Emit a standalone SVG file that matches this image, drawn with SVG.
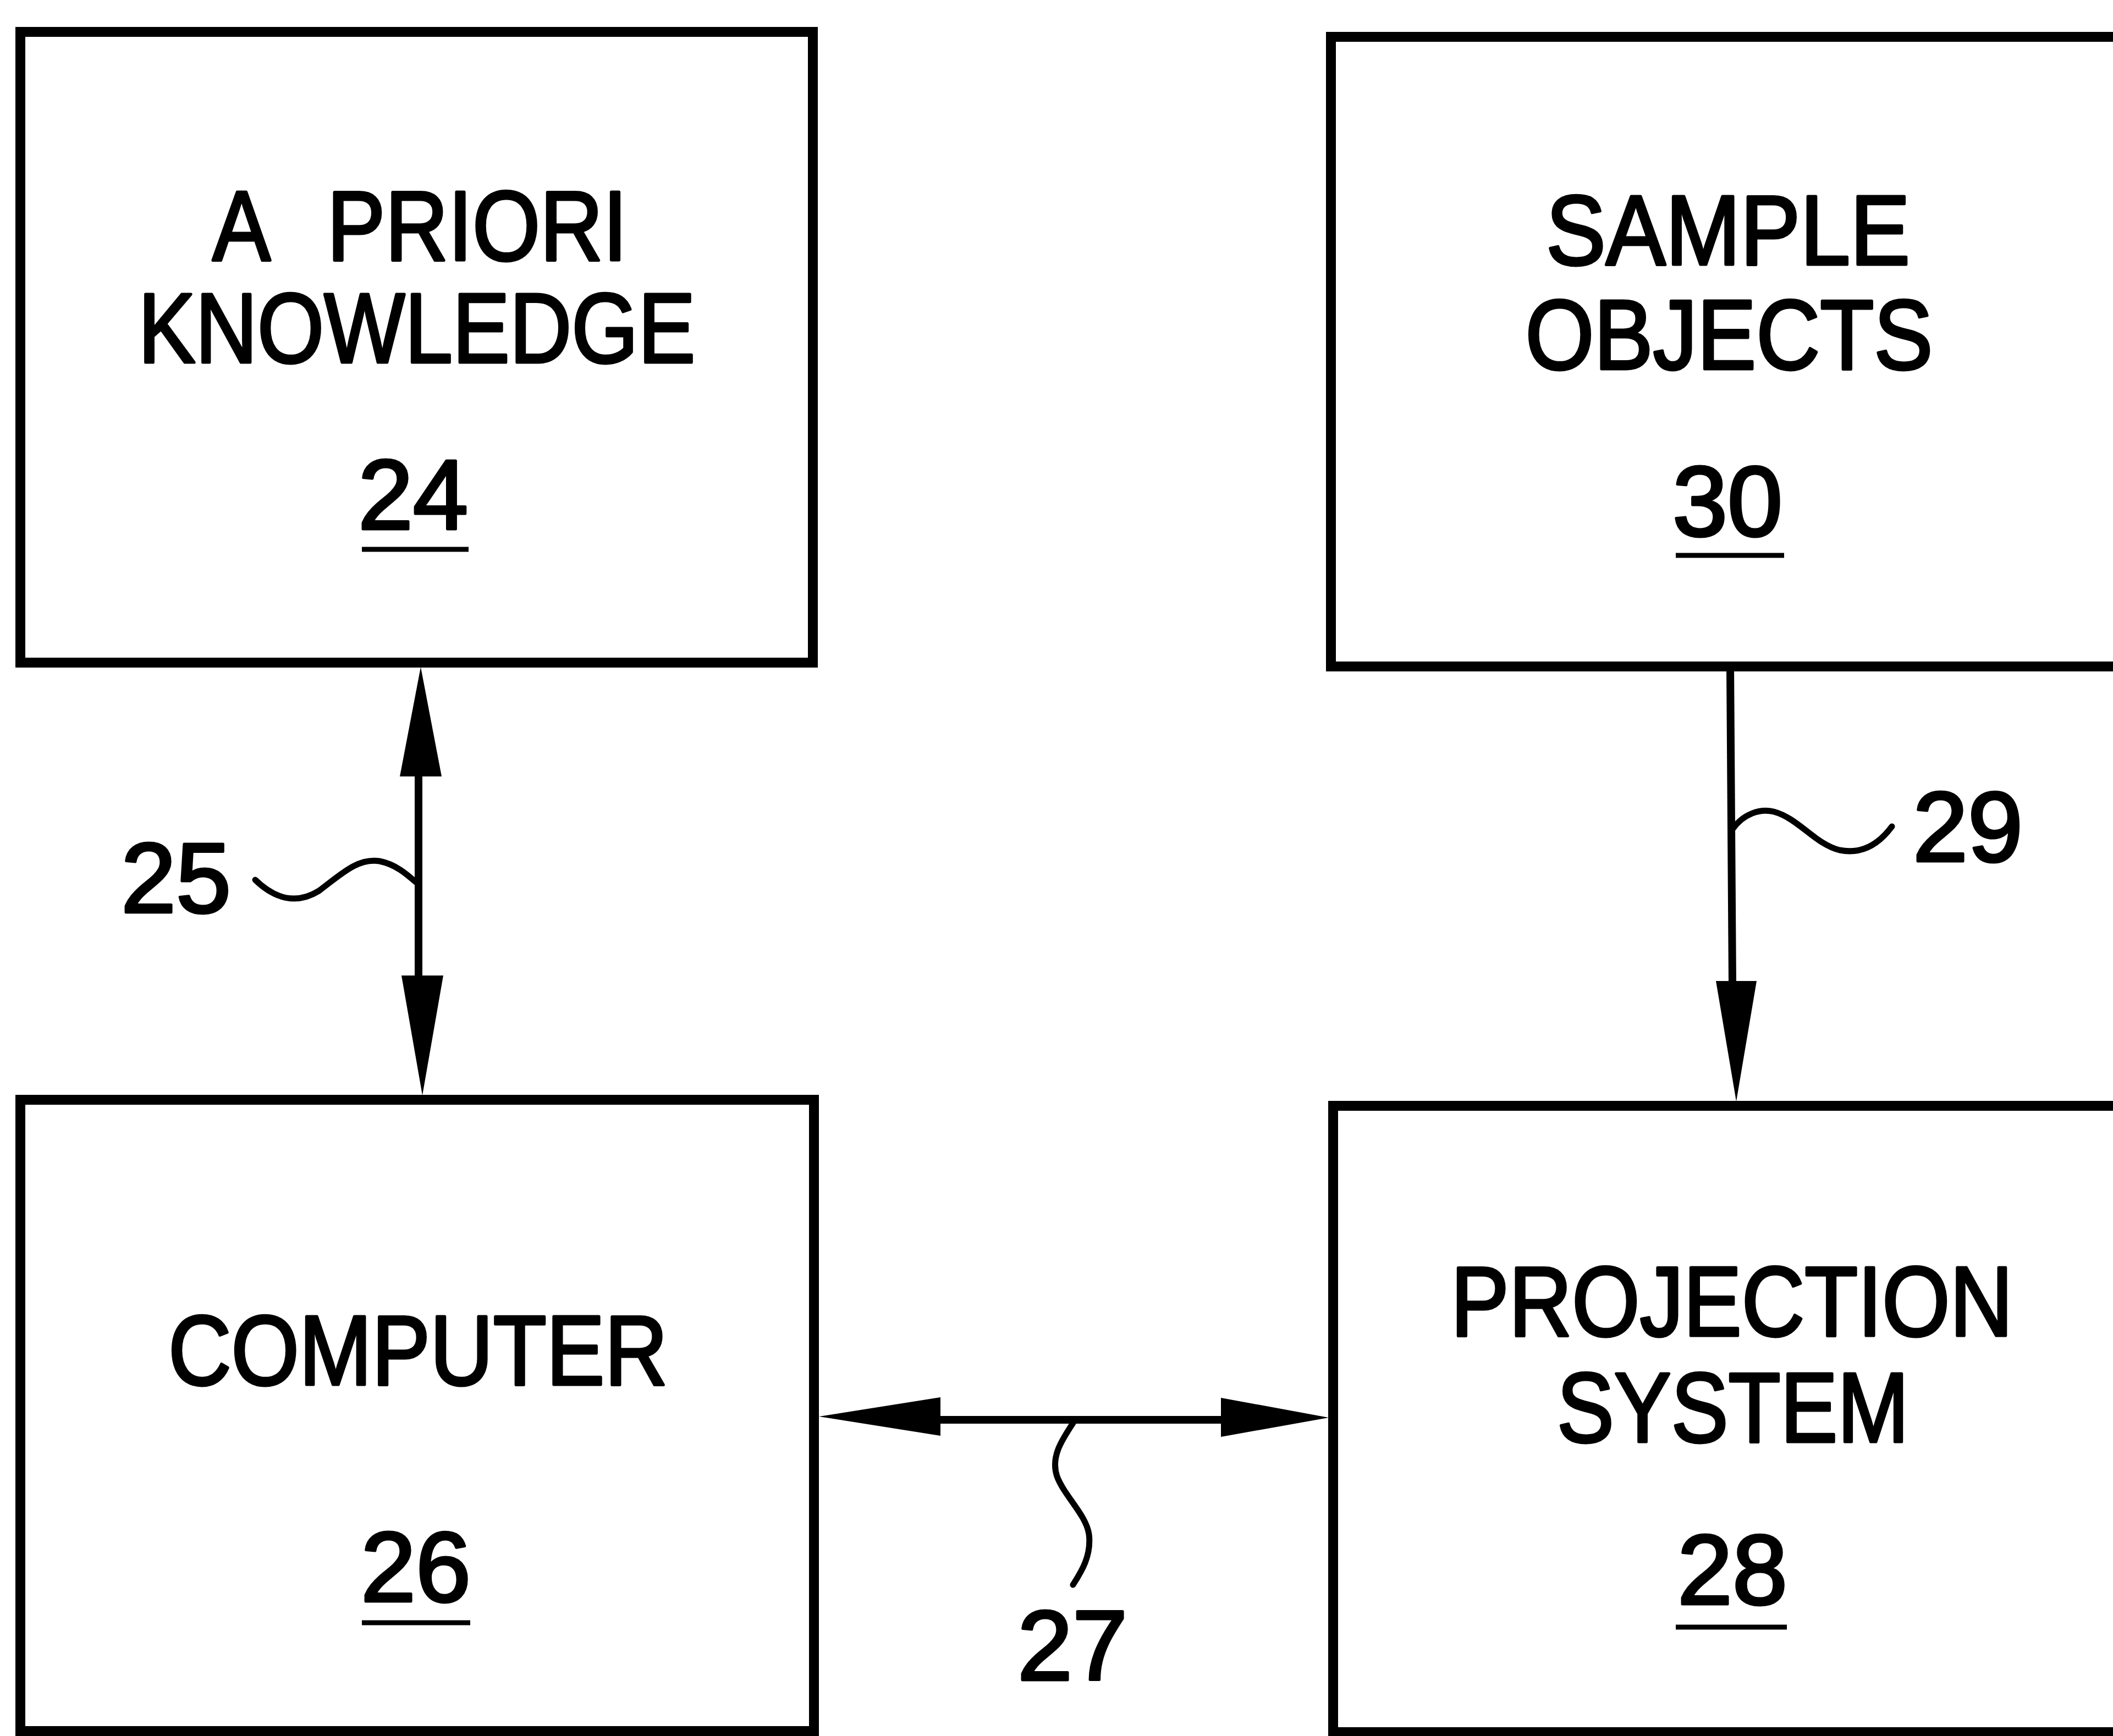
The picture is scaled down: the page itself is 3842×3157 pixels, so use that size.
<svg xmlns="http://www.w3.org/2000/svg" width="3842" height="3157" viewBox="0 0 3842 3157">
<style>
.box{fill:none;stroke:#000;stroke-width:18}
.lbl{font-family:"Liberation Sans",Arial,sans-serif;font-size:180px;fill:#000;stroke:#000;stroke-width:5;stroke-linejoin:round}
.mid{text-anchor:middle}
.ul{stroke:#000;stroke-width:9}
.conn{stroke:#000;stroke-width:14;fill:none}
.lead{stroke:#000;stroke-width:11;fill:none;stroke-linecap:round}
.head{fill:#000}
</style>
<rect x="0" y="0" width="3842" height="3157" fill="#fff"/>
<g id="node24">
<rect class="box" x="37" y="58" width="1441" height="1147"/>
<text class="lbl" transform="scale(0.88,1)" y="473"><tspan x="439">A</tspan> <tspan x="676">PRIORI</tspan></text>
<text class="lbl mid" x="758" y="659" textLength="1013" lengthAdjust="spacingAndGlyphs">KNOWLEDGE</text>
<text class="lbl mid" x="751" y="962">24</text>
<line class="ul" x1="658" y1="999" x2="852" y2="999"/>
</g>
<g id="node30">
<rect class="box" x="2420" y="67" width="1480" height="1145"/>
<text class="lbl mid" x="3142" y="481" textLength="662" lengthAdjust="spacingAndGlyphs">SAMPLE</text>
<text class="lbl mid" x="3144" y="671" textLength="741" lengthAdjust="spacingAndGlyphs">OBJECTS</text>
<text class="lbl mid" x="3141" y="974">30</text>
<line class="ul" x1="3047" y1="1010" x2="3244" y2="1010"/>
</g>
<g id="node26">
<rect class="box" x="37" y="2000" width="1443" height="1148"/>
<text class="lbl mid" x="760" y="2518" textLength="908" lengthAdjust="spacingAndGlyphs">COMPUTER</text>
<text class="lbl mid" x="756" y="2912">26</text>
<line class="ul" x1="658" y1="2951" x2="855" y2="2951"/>
</g>
<g id="node28">
<rect class="box" x="2424" y="2011" width="1480" height="1139"/>
<text class="lbl mid" x="3149" y="2429" textLength="1022" lengthAdjust="spacingAndGlyphs">PROJECTION</text>
<text class="lbl mid" x="3151" y="2622" textLength="640" lengthAdjust="spacingAndGlyphs">SYSTEM</text>
<text class="lbl mid" x="3150" y="2917">28</text>
<line class="ul" x1="3047" y1="2959" x2="3249" y2="2959"/>
</g>
<g id="connectors">
<g id="c25">
<line class="conn" x1="761" y1="1405" x2="761" y2="1780"/>
<polygon class="head" points="765,1213 727,1412 803,1412"/>
<polygon class="head" points="768,1992 730,1774 806,1774"/>
<path class="lead" d="M464,1600 C500,1635 540,1645 580,1620 C620,1590 650,1560 690,1566 C720,1572 740,1590 757,1605"/>
<text class="lbl mid" x="320" y="1659">25</text>
</g>
<g id="c29">
<line class="conn" x1="3146" y1="1212" x2="3150" y2="1790"/>
<polygon class="head" points="3157,2003 3120,1784 3194,1784"/>
<path class="lead" d="M3150,1508 C3170,1480 3200,1470 3225,1476 C3270,1488 3300,1535 3345,1546 C3390,1555 3420,1530 3440,1503"/>
<text class="lbl mid" x="3578" y="1566">29</text>
</g>
<g id="c27">
<line class="conn" x1="1705" y1="2582" x2="2225" y2="2582"/>
<polygon class="head" points="1489,2576 1710,2541 1710,2611"/>
<polygon class="head" points="2416,2578 2220,2542 2220,2613"/>
<path class="lead" d="M1951,2588 C1930,2620 1910,2650 1922,2685 C1935,2720 1975,2755 1980,2790 C1985,2830 1965,2860 1951,2882"/>
<text class="lbl mid" x="1950" y="3055">27</text>
</g>
</g>
</svg>
